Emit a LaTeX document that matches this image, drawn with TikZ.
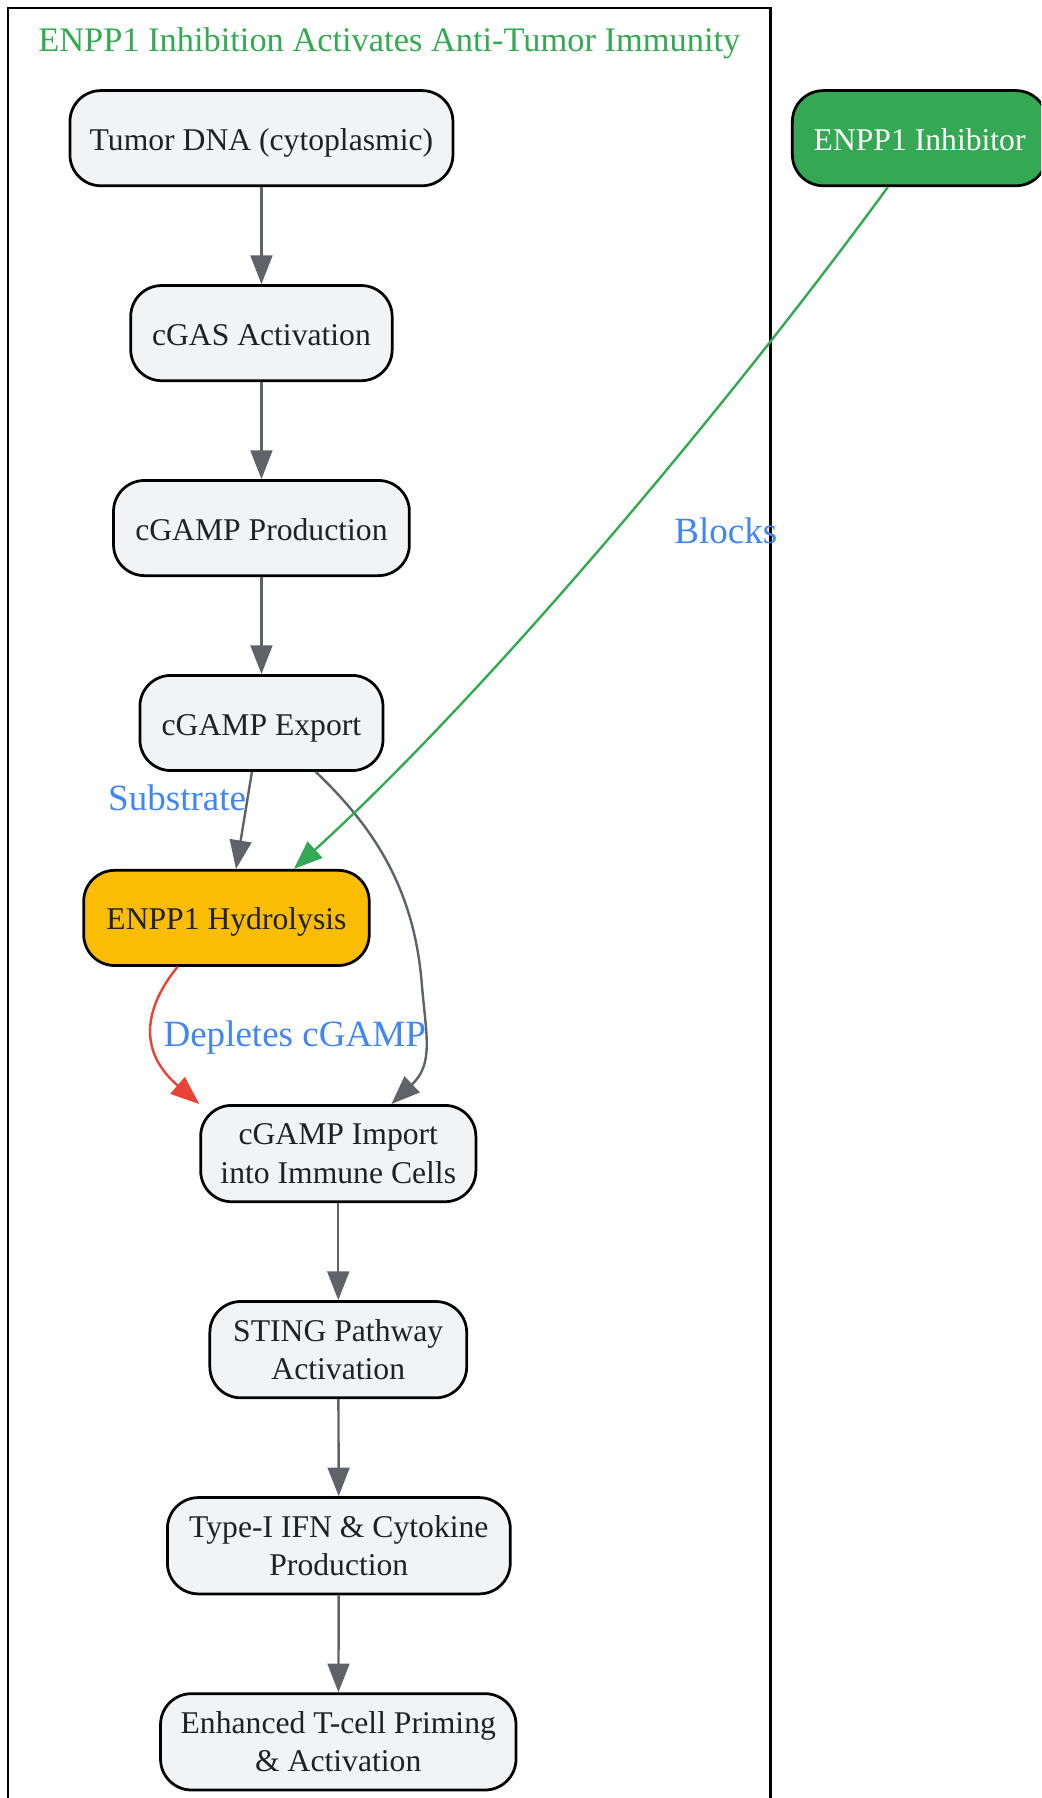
\documentclass[tikz,border=0pt]{standalone}
\usepackage{fontspec}
\setmainfont{Liberation Serif}
\usetikzlibrary{arrows.meta}
\definecolor{nodefill}{HTML}{F1F3F4}
\definecolor{txt}{HTML}{202124}
\definecolor{edgegray}{HTML}{5F6368}
\definecolor{ggreen}{HTML}{34A853}
\definecolor{gred}{HTML}{EA4335}
\definecolor{gyellow}{HTML}{FBBC04}
\definecolor{gblue}{HTML}{4285F4}
\begin{document}
\begin{tikzpicture}[x=1pt,y=-1pt,
  box/.style={draw=black, line width=2.4pt, rounded corners=27pt, fill=nodefill, text=txt,
    inner sep=0pt, align=center, font=\fontsize{27.6}{33.5}\selectfont},
  one/.style={text height=21pt, text depth=0pt},
  edge/.style={draw=edgegray, line width=2.1pt, -{Triangle[length=25pt,width=19pt]}},
  elabel/.style={text=gblue, font=\fontsize{32.3}{36}\selectfont, anchor=base, inner sep=0pt}]
\useasboundingbox (0,0) rectangle (908,1568);
\clip (0,0) rectangle (908,1568);
% cluster
\draw[line width=2.2pt] (7,1600) -- (7,7) -- (672,7) -- (672,1600);
\node[anchor=base, text=ggreen, inner sep=0pt, font=\fontsize{30}{34}\selectfont] (title) at (339.5,45) {ENPP1 Inhibition Activates Anti-Tumor Immunity};
% nodes
\node[box, one, minimum width=334pt, minimum height=83pt] (tumor) at (228,120.5) {Tumor DNA (cytoplasmic)};
\node[box, one, minimum width=228pt, minimum height=83pt] (cgas) at (228,290.5) {cGAS Activation};
\node[box, one, minimum width=258pt, minimum height=83pt] (prod) at (228,460.5) {cGAMP Production};
\node[box, one, minimum width=212pt, minimum height=83pt] (export) at (228,630.5) {cGAMP Export};
\node[box, one, fill=gyellow, minimum width=249pt, minimum height=83pt] (hydro) at (197.5,800.5) {ENPP1 Hydrolysis};
\node[box, minimum width=240pt, minimum height=84pt] (import) at (295,1006) {cGAMP Import\\into Immune Cells};
\node[box, minimum width=224pt, minimum height=84pt] (sting) at (295,1177) {STING Pathway\\Activation};
\node[box, minimum width=299pt, minimum height=84pt] (ifn) at (295.5,1348) {Type-I IFN \& Cytokine\\Production};
\node[box, minimum width=310pt, minimum height=84pt] (tcell) at (295,1519) {Enhanced T-cell Priming\\\& Activation};
\node[box, one, fill=ggreen, text=white, minimum width=222pt, minimum height=83pt] (inhib) at (802,120.5) {ENPP1 Inhibitor};
% edges
\draw[edge] (tumor) -- (cgas);
\draw[edge] (cgas) -- (prod);
\draw[edge] (prod) -- (export);
\draw[edge] (export.259) -- (hydro.79);
\draw[edge] (export.318) .. controls (330,725) and (362,780) .. (368,860)
  .. controls (372,905) and (378,928) .. (import.43);
\draw[edge, draw=gred] (hydro.225) .. controls (128,876) and (118,915) .. (import.north west);
\draw[edge, draw=ggreen] (inhib.237) .. controls (628,363) and (421,608) .. (hydro.36);
\draw[edge] (import) -- (sting);
\draw[edge] (sting) -- (ifn);
\draw[edge] (ifn) -- (tcell);
% edge labels
\node[elabel] (lsub) at (154.5,707) {Substrate};
\node[elabel] (ldep) at (257,913) {Depletes cGAMP};
\node[elabel] (lblk) at (633,473.6) {Blocks};
\end{tikzpicture}
\end{document}
